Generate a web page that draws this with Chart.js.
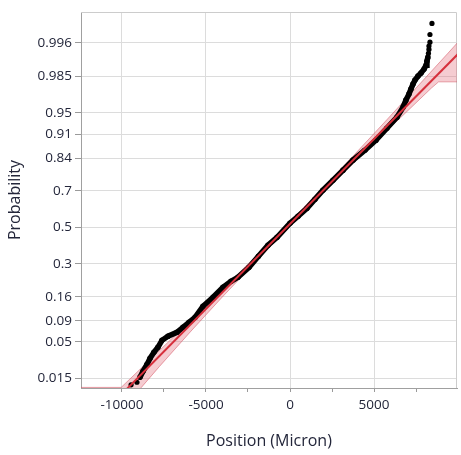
<!DOCTYPE html>
<html>
<head>
<meta charset="utf-8">
<script src="https://cdn.jsdelivr.net/npm/chart.js"></script>
<style>
  html, body { margin: 0; padding: 0; background: #fff; }
  canvas { display: block; }
</style>
</head>
<body>
<canvas id="quantileChart" width="461" height="455"></canvas>
<script>
// probability axis ticks
const probTicks = [0.015, 0.05, 0.09, 0.16, 0.3, 0.5, 0.7, 0.84, 0.91, 0.95, 0.985, 0.996];
const probLabels = ['0.015', '0.05', '0.09', '0.16', '0.3', '0.5', '0.7', '0.84', '0.91', '0.95', '0.985', '0.996'];
const probRange = [0.01056, 0.99901];

// position axis ticks
const posTicks = [-10000, -7500, -5000, -2500, 0, 2500, 5000, 7500];
const posLabels = ['-10000', '', '-5000', '', '0', '', '5000', ''];
const posRange = [-12440, 9940];

// ordered observations (dense part)
const positions = [-8930, -8750, -8510, -8330, -8100, -7860, -7620, -7260, -6730, -6370, -6010, -5650,
  -5180, -4580, -3990, -3510, -3100, -2440, -1880, -1310, -770, 0, 480, 1010, 1490, 1960, 2560, 3160,
  3750, 4460, 5120, 5770, 6370, 6730, 6900, 7080, 7200, 7320, 7440, 7620, 7800, 7980, 8100, 8150, 8210];
const probabilities = [0.0157, 0.0194, 0.0246, 0.0301, 0.0365, 0.0426, 0.0525, 0.0590, 0.0660, 0.0758, 0.0866, 0.0985,
  0.1288, 0.1579, 0.1952, 0.2198, 0.2370, 0.2837, 0.3394, 0.3990, 0.4439, 0.5239, 0.5640, 0.6087, 0.6573, 0.7033, 0.7511, 0.7945,
  0.8330, 0.8663, 0.8949, 0.9229, 0.9433, 0.9579, 0.9662, 0.9722, 0.9765, 0.9802, 0.9828, 0.9851, 0.9867, 0.9885, 0.9901, 0.9915, 0.9928];

// ordered observations (separate tail dots)
const tailPositions = [-9460, -9110, 8240, 8270, 8270, 8330, 8330, 8450];
const tailProbabilities = [0.0119, 0.0131, 0.9938, 0.9947, 0.9954, 0.9961, 0.9972, 0.9983];

// normal fit line
const fitPositions = [-10500, 10500];
const fitProbabilities = [0.0060, 0.9955];

// confidence band edges
const upperPositions = [-13000, -10050, -8760, -6620, -4480, -2400, -350, 1670, 3660, 5590, 7500, 9400, 10500];
const upperProbabilities = [0.0108, 0.0108, 0.0228, 0.0668, 0.1587, 0.3085, 0.5, 0.6915, 0.8413, 0.9332, 0.9773, 0.9938, 0.9974];
const lowerPositions = [10500, 8845, 8415, 6250, 4110, 2000, -50, -2070, -4030, -5935, -7780, -8860, -9970];
const lowerProbabilities = [0.9817, 0.9817, 0.9773, 0.9332, 0.8413, 0.6915, 0.5, 0.3085, 0.1587, 0.0668, 0.0228, 0.0107, 0.0047];

// inverse normal cdf (Acklam), used for the probability scale
function probit(p) {
    const a = [-39.6968302866538, 220.946098424521, -275.928510446969, 138.357751867269, -30.6647980661472, 2.50662827745924];
    const b = [-54.4760987982241, 161.585836858041, -155.698979859887, 66.8013118877197, -13.2806815528857];
    const c = [-0.00778489400243029, -0.322396458041136, -2.40075827716184, -2.54973253934373, 4.37466414146497, 2.93816398269878];
    const d = [0.00778469570904146, 0.32246712907004, 2.445134137143, 3.75440866190742];
    const plow = 0.02425;
    let q, r;
    if (p < plow) {
        q = Math.sqrt(-2 * Math.log(p));
        return (((((c[0] * q + c[1]) * q + c[2]) * q + c[3]) * q + c[4]) * q + c[5]) / ((((d[0] * q + d[1]) * q + d[2]) * q + d[3]) * q + 1);
    }
    if (p > 1 - plow) {
        q = Math.sqrt(-2 * Math.log(1 - p));
        return -(((((c[0] * q + c[1]) * q + c[2]) * q + c[3]) * q + c[4]) * q + c[5]) / ((((d[0] * q + d[1]) * q + d[2]) * q + d[3]) * q + 1);
    }
    q = p - 0.5;
    r = q * q;
    return (((((a[0] * r + a[1]) * r + a[2]) * r + a[3]) * r + a[4]) * r + a[5]) * q / (((((b[0] * r + b[1]) * r + b[2]) * r + b[3]) * r + b[4]) * r + 1);
}

function toPoints(xs, ps) {
    return xs.map((x, i) => ({ x: x, y: probit(ps[i]) }));
}

const font = "'Open Sans', 'Noto Sans', sans-serif";
const textColor = '#23263a';

// light frame on top and right of the plot
const framePlugin = {
    id: 'frame',
    beforeDatasetsDraw(chart) {
        const { ctx, chartArea: a } = chart;
        ctx.save();
        ctx.strokeStyle = '#cccccc';
        ctx.lineWidth = 1;
        ctx.beginPath();
        ctx.moveTo(a.left, a.top + 0.5);
        ctx.lineTo(a.right - 0.5, a.top + 0.5);
        ctx.lineTo(a.right - 0.5, a.bottom);
        ctx.stroke();
        ctx.restore();
    }
};

const ctx = document.getElementById('quantileChart').getContext('2d');
new Chart(ctx, {
    type: 'scatter',
    data: {
        datasets: [
            {
                label: 'Normal fit',
                data: toPoints(fitPositions, fitProbabilities),
                showLine: true,
                borderColor: 'rgb(214, 48, 60)',
                borderWidth: 2,
                pointRadius: 0,
                order: 1
            },
            {
                label: 'Tail',
                data: toPoints(tailPositions, tailProbabilities),
                showLine: false,
                backgroundColor: '#000',
                borderColor: '#000',
                pointRadius: 2.6,
                pointBorderWidth: 0,
                order: 2
            },
            {
                label: 'Observations',
                data: toPoints(positions, probabilities),
                showLine: true,
                borderColor: '#000',
                borderWidth: 5.5,
                backgroundColor: '#000',
                pointRadius: 2.8,
                pointBorderWidth: 0,
                order: 3
            },
            {
                label: 'Band',
                data: toPoints(upperPositions.concat(lowerPositions), upperProbabilities.concat(lowerProbabilities)),
                showLine: true,
                fill: 'shape',
                backgroundColor: 'rgba(226, 110, 122, 0.35)',
                borderColor: 'rgba(214, 90, 104, 0.55)',
                borderWidth: 1,
                pointRadius: 0,
                order: 4
            }
        ]
    },
    options: {
        responsive: false,
        animation: false,
        layout: { padding: { top: 12, right: 4, left: 0, bottom: 0 } },
        plugins: {
            legend: { display: false },
            tooltip: { enabled: false }
        },
        scales: {
            x: {
                type: 'linear',
                min: posRange[0],
                max: posRange[1],
                afterBuildTicks: scale => {
                    scale.ticks = posTicks.map(v => ({ value: v }));
                },
                afterFit: scale => { scale.height = 67; },
                ticks: {
                    autoSkip: false,
                    maxRotation: 0,
                    padding: 5,
                    color: textColor,
                    font: { family: font, size: 13.5 },
                    callback: (value, index) => posLabels[index]
                },
                grid: {
                    color: c => (c.tick && c.tick.value % 5000 === 0) ? '#dcdcdc' : 'rgba(0,0,0,0)',
                    tickColor: '#9a9a9a',
                    tickLength: 4,
                    lineWidth: 1
                },
                border: { color: '#a0a0a0', width: 1 },
                title: {
                    display: true,
                    text: 'Position (Micron)',
                    color: textColor,
                    font: { family: font, size: 16 },
                    padding: { top: 0, bottom: 4 }
                }
            },
            y: {
                type: 'linear',
                min: probit(probRange[0]),
                max: probit(probRange[1]),
                afterBuildTicks: scale => {
                    scale.ticks = probTicks.map(p => ({ value: probit(p) }));
                },
                afterFit: scale => { scale.width = 81; },
                ticks: {
                    autoSkip: false,
                    padding: 3,
                    color: textColor,
                    font: { family: font, size: 13.5 },
                    callback: (value, index) => probLabels[index]
                },
                grid: {
                    color: '#dcdcdc',
                    tickColor: '#9a9a9a',
                    tickLength: 6,
                    lineWidth: 1
                },
                border: { color: '#a0a0a0', width: 1 },
                title: {
                    display: true,
                    text: 'Probability',
                    color: textColor,
                    font: { family: font, size: 16 },
                    padding: { top: 6, bottom: 0 }
                }
            }
        }
    },
    plugins: [framePlugin]
});
</script>
</body>
</html>
